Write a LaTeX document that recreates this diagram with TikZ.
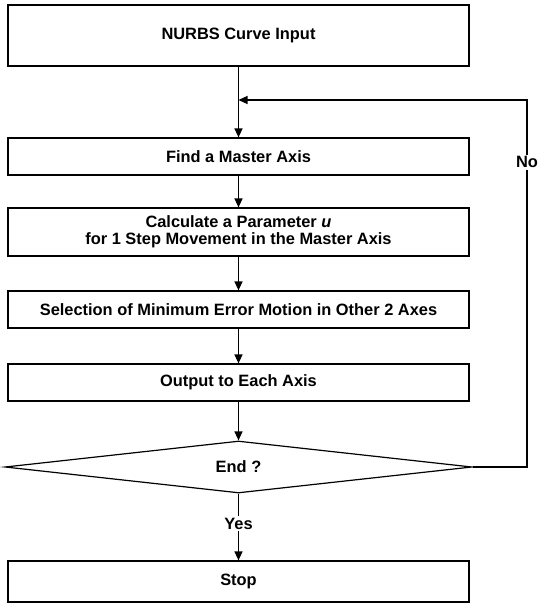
\documentclass[tikz,border=0pt]{standalone}
\usepackage{fontspec}
\setmainfont{Liberation Sans}
\usetikzlibrary{shapes.geometric,arrows.meta}
\tikzset{
  x=1pt, y=-1pt,
  stepbox/.style={draw, line width=1.2pt, minimum width=461pt, inner sep=0pt,
    align=center, font=\bfseries\fontsize{16.4}{17}\selectfont},
  decision/.style={draw, diamond, aspect=9, line width=1.2pt, minimum width=467pt,
    minimum height=52pt, inner sep=0pt, font=\bfseries\fontsize{16.4}{17}\selectfont},
  arr/.style={line width=1.2pt, -{Triangle[length=9pt,width=8pt]}},
  tag/.style={fill=white, inner sep=2pt, font=\bfseries\fontsize{16.4}{17}\selectfont}
}
\begin{document}
\begin{tikzpicture}
  \useasboundingbox (0,0) rectangle (542,610);
  \node[stepbox, minimum height=61pt] (input) at (238.5,35.5) {NURBS Curve Input};
  \node[stepbox, minimum height=37pt] (master) at (238.5,156.5) {Find a Master Axis};
  \node[stepbox, minimum height=48pt] (param) at (238.5,232) {Calculate a Parameter \textit{u}\\for 1 Step Movement in the Master Axis};
  \node[stepbox, minimum height=37pt] (select) at (238.5,309.5) {Selection of Minimum Error Motion in Other 2 Axes};
  \node[stepbox, minimum height=37pt] (output) at (238.5,382.5) {Output to Each Axis};
  \node[decision] (end) at (238.5,467) {End ?};
  \node[stepbox, minimum height=41pt] (stop) at (238.5,581.5) {Stop};
  \coordinate (join) at (238.5,100);
  \coordinate (turn) at (527,100);
  \draw[arr] (input) -- (master);
  \draw[arr] (master) -- (param);
  \draw[arr] (param) -- (select);
  \draw[arr] (select) -- (output);
  \draw[arr] (output) -- (end);
  \draw[arr] (end) -- node[tag, pos=0.45] {Yes} (stop);
  \draw[arr] (end.east) -- (end.east -| turn) -- node[tag, pos=0.83] {No} (turn) -- (join);
\end{tikzpicture}
\end{document}
